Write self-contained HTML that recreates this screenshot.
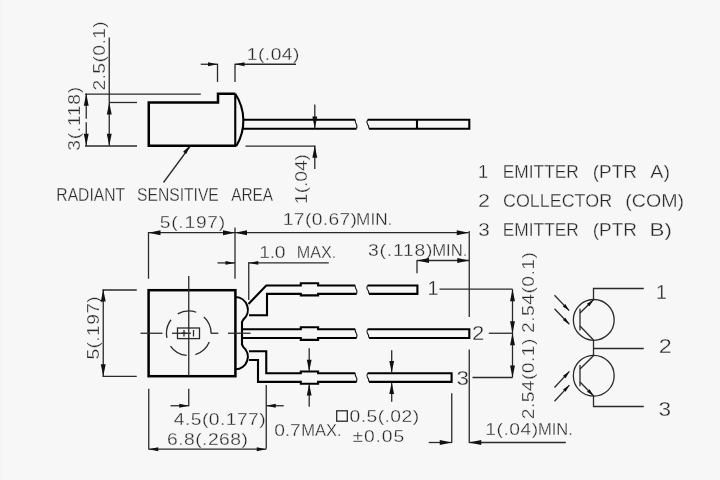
<!DOCTYPE html>
<html lang="en">
<head>
<meta charset="utf-8">
<title>Package dimensions</title>
<style>
html,body{margin:0;padding:0;background:#f7f7f7;}
body{width:720px;height:480px;overflow:hidden;}
svg{display:block;}
.t{stroke:#2a2a2a;stroke-width:1.3;fill:none;}
.k{stroke:#000;stroke-width:2.1;fill:none;stroke-linejoin:miter;}
.w{stroke:#111;stroke-width:1.1;fill:none;}
.b{stroke:#000;stroke-width:2.5;fill:none;stroke-linejoin:miter;}
.a{fill:#111;stroke:none;}
.x{font-family:"Liberation Sans",sans-serif;fill:#262626;stroke:#f7f7f7;stroke-width:0.3;}
</style>
</head>
<body>
<svg width="720" height="480" viewBox="0 0 720 480">
<rect x="0" y="0" width="720" height="480" fill="#f7f7f7"/>
<rect x="0" y="0" width="3" height="480" fill="#f5f5f5"/>
<!-- labels -->
<g opacity="0.99">
<text class="x" transform="translate(248.30 60.40) scale(1.12 1)" x="-1.34" y="0" font-size="17.2" textLength="46.99" lengthAdjust="spacing">1(.04)</text>
<text class="x" transform="translate(105.20 89.60) rotate(-90) scale(1.12 1)" x="-0.89" y="0" font-size="17.2" textLength="61.87" lengthAdjust="spacing">2.5(0.1)</text>
<text class="x" transform="translate(80.40 150.00) rotate(-90) scale(1.12 1)" x="-0.67" y="0" font-size="17.2" textLength="57.10" lengthAdjust="spacing">3(.118)</text>
<text class="x" transform="translate(306.60 202.50) rotate(-90) scale(1.12 1)" x="-1.34" y="0" font-size="17.2" textLength="44.64" lengthAdjust="spacing">1(.04)</text>
<text class="x" x="56.35" y="201.20" font-size="18.3" textLength="68.72" lengthAdjust="spacingAndGlyphs">RADIANT</text>
<text class="x" x="137.05" y="201.20" font-size="18.3" textLength="81.75" lengthAdjust="spacingAndGlyphs">SENSITIVE</text>
<text class="x" x="231.20" y="201.20" font-size="18.3" textLength="41.90" lengthAdjust="spacingAndGlyphs">AREA</text>
<text class="x" x="477.95" y="178.40" font-size="18.3">1</text>
<text class="x" x="502.80" y="178.40" font-size="18.3" textLength="76.02" lengthAdjust="spacingAndGlyphs">EMITTER</text>
<text class="x" x="592.75" y="178.40" font-size="18.3" textLength="44.17" lengthAdjust="spacingAndGlyphs">(PTR</text>
<text class="x" x="650.30" y="178.40" font-size="18.3" textLength="19.65" lengthAdjust="spacingAndGlyphs">A)</text>
<text class="x" x="478.00" y="206.80" font-size="18.3" textLength="11.93" lengthAdjust="spacingAndGlyphs">2</text>
<text class="x" x="503.00" y="206.80" font-size="18.3" textLength="109.08" lengthAdjust="spacingAndGlyphs">COLLECTOR</text>
<text class="x" x="625.25" y="206.80" font-size="18.3" textLength="58.77" lengthAdjust="spacingAndGlyphs">(COM)</text>
<text class="x" x="478.25" y="235.80" font-size="18.3" textLength="11.48" lengthAdjust="spacingAndGlyphs">3</text>
<text class="x" x="502.80" y="235.80" font-size="18.3" textLength="76.02" lengthAdjust="spacingAndGlyphs">EMITTER</text>
<text class="x" x="592.75" y="235.80" font-size="18.3" textLength="44.17" lengthAdjust="spacingAndGlyphs">(PTR</text>
<text class="x" x="649.55" y="235.80" font-size="18.3" textLength="22.33" lengthAdjust="spacingAndGlyphs">B)</text>
<text class="x" transform="translate(160.50 228.30) scale(1.12 1)" x="-0.67" y="0" font-size="17.2" textLength="58.44" lengthAdjust="spacing">5(.197)</text>
<text class="x" transform="translate(284.30 224.60) scale(1.12 1)" x="-1.34" y="0" font-size="17.2" textLength="66.18" lengthAdjust="spacing">17(0.67)</text>
<text class="x" x="356.10" y="224.60" font-size="17.2" textLength="36.20" lengthAdjust="spacingAndGlyphs">MIN.</text>
<text class="x" transform="translate(260.80 257.70) scale(1.12 1)" x="-1.34" y="0" font-size="17.2" textLength="23.37" lengthAdjust="spacing">1.0</text>
<text class="x" x="296.75" y="257.70" font-size="17.2" textLength="39.62" lengthAdjust="spacingAndGlyphs">MAX.</text>
<text class="x" transform="translate(368.70 256.40) scale(1.12 1)" x="-0.67" y="0" font-size="17.2" textLength="57.66" lengthAdjust="spacing">3(.118)</text>
<text class="x" x="432.15" y="256.40" font-size="17.2" textLength="35.23" lengthAdjust="spacingAndGlyphs">MIN.</text>
<text class="x" transform="translate(99.20 358.80) rotate(-90) scale(1.12 1)" x="-0.67" y="0" font-size="17.2" textLength="56.54" lengthAdjust="spacing">5(.197)</text>
<text class="x" transform="translate(174.30 424.80) scale(1.12 1)" x="-0.45" y="0" font-size="17.2" textLength="82.01" lengthAdjust="spacing">4.5(0.177)</text>
<text class="x" transform="translate(168.00 445.30) scale(1.12 1)" x="-0.89" y="0" font-size="17.2" textLength="72.25" lengthAdjust="spacing">6.8(.268)</text>
<text class="x" transform="translate(275.00 436.30) scale(1.12 1)" x="-0.67" y="0" font-size="17.2" textLength="23.64" lengthAdjust="spacing">0.7</text>
<text class="x" x="301.25" y="436.30" font-size="17.2" textLength="40.35" lengthAdjust="spacingAndGlyphs">MAX.</text>
<text class="x" transform="translate(350.30 421.80) scale(1.12 1)" x="-0.67" y="0" font-size="17.2" textLength="62.12" lengthAdjust="spacing">0.5(.02)</text>
<text class="x" transform="translate(353.00 441.80) scale(1.12 1)" x="-0.45" y="0" font-size="17.2" textLength="46.12" lengthAdjust="spacing">±0.05</text>
<text class="x" x="427.60" y="295.20" font-size="19.6">1</text>
<text class="x" x="472.00" y="340.40" font-size="19.6" textLength="12.30" lengthAdjust="spacingAndGlyphs">2</text>
<text class="x" x="456.50" y="385.00" font-size="19.6" textLength="12.45" lengthAdjust="spacingAndGlyphs">3</text>
<text class="x" transform="translate(533.90 331.90) rotate(-90) scale(1.12 1)" x="-0.89" y="0" font-size="17.2" textLength="72.14" lengthAdjust="spacing">2.54(0.1)</text>
<text class="x" transform="translate(533.90 418.20) rotate(-90) scale(1.12 1)" x="-0.89" y="0" font-size="17.2" textLength="71.92" lengthAdjust="spacing">2.54(0.1)</text>
<text class="x" transform="translate(486.70 434.60) scale(1.12 1)" x="-1.34" y="0" font-size="17.2" textLength="47.32" lengthAdjust="spacing">1(.04)</text>
<text class="x" x="537.95" y="434.60" font-size="17.2" textLength="34.97" lengthAdjust="spacingAndGlyphs">MIN.</text>
<text class="x" x="655.90" y="299.30" font-size="19.6">1</text>
<text class="x" x="658.75" y="353.00" font-size="19.6" textLength="13.03" lengthAdjust="spacingAndGlyphs">2</text>
<text class="x" x="658.60" y="415.60" font-size="19.6" textLength="12.58" lengthAdjust="spacingAndGlyphs">3</text>
</g>
<!-- side view -->
<path class="b" d="M235.25,93.75 H218 V102.5 H148.75 V145.75 H236.5"/>
<path class="k" d="M235.25,93.75 V145.75"/>
<path class="k" d="M235.25,93.75 A49,49 0 0 1 236.5,145.75"/>
<path class="k" d="M242.8,119.8 H355.2 M356.6,128.7 H242.8"/>
<path class="w" d="M355.2,119.8 q-0.1,2.67 0.9,3.74 q1.3,1.60 0.5,5.16"/>
<path class="k" d="M367.6,119.8 H469.3 V128.7 H369"/>
<path class="w" d="M367.6,119.8 q-1.3,2.22 -0.2,4.00 q1.4,1.78 1.6,4.89"/>
<path class="k" d="M417,119.8 V128.7"/>
<line class="t" x1="109.25" y1="37.5" x2="109.25" y2="145.75"/>
<line class="t" x1="109.25" y1="102.5" x2="137" y2="102.5"/>
<polygon class="a" points="109.25,102.50 111.70,114.50 106.80,114.50"/>
<polygon class="a" points="109.25,145.75 106.80,133.75 111.70,133.75"/>
<line class="t" x1="85" y1="94.1" x2="200.8" y2="94.1"/>
<line class="t" x1="86.25" y1="93.75" x2="86.25" y2="118.75"/>
<line class="t" x1="86.25" y1="122.25" x2="86.25" y2="145.75"/>
<line class="t" x1="85" y1="146" x2="137" y2="146"/>
<polygon class="a" points="86.25,93.75 88.70,105.75 83.80,105.75"/>
<polygon class="a" points="86.25,145.75 83.80,133.75 88.70,133.75"/>
<line class="t" x1="217.5" y1="63.75" x2="217.5" y2="82"/>
<line class="t" x1="235" y1="63.75" x2="235" y2="82"/>
<line class="t" x1="200.75" y1="64.25" x2="217.5" y2="64.25"/>
<line class="t" x1="235" y1="64.25" x2="296" y2="64.25"/>
<polygon class="a" points="217.50,64.25 208.00,66.20 208.00,62.30"/>
<polygon class="a" points="235.00,64.25 244.50,62.30 244.50,66.20"/>
<line class="t" x1="314.8" y1="104.6" x2="314.8" y2="128.5"/>
<polygon class="a" points="314.80,128.50 312.35,116.50 317.25,116.50"/>
<line class="t" x1="245.5" y1="146.1" x2="315.4" y2="146.1"/>
<line class="t" x1="314.8" y1="145.8" x2="314.8" y2="169"/>
<polygon class="a" points="314.80,145.80 317.25,157.80 312.35,157.80"/>
<line class="t" x1="190" y1="146.5" x2="163.5" y2="182.5"/>
<polygon class="a" points="190.30,145.30 186.23,154.10 183.09,151.79"/>
<!-- front view -->
<rect class="b" x="148.6" y="290.2" width="86.8" height="86"/>
<path class="k" d="M235.5,297 A12.8,12.8 0 0 1 243.3,319.6 L242,322 V344.5 L243.3,347 A12.6,12.6 0 0 1 235.5,369.3"/>
<path class="k" d="M248.5,304 L266.25,285.5 H300.8 V283.3 H318.1 V285.5 H355.2 M356.6,293.9 H318.1 V295.4 H300.8 V293.9 H267 V315.2 H249"/>
<path class="w" d="M355.2,285.5 q-0.1,2.52 0.9,3.53 q1.3,1.51 0.5,4.87"/>
<path class="k" d="M367.6,285.5 H417.4 V293.9 H369"/>
<path class="w" d="M367.6,285.5 q-1.3,2.10 -0.2,3.78 q1.4,1.68 1.6,4.62"/>
<path class="k" d="M242,329.25 H300.8 V327.3 H318.1 V329.25 H355.2 M356.6,338 H318.1 V339.9 H300.8 V338 H242"/>
<path class="w" d="M355.2,329.25 q-0.1,2.62 0.9,3.67 q1.3,1.57 0.5,5.07"/>
<path class="k" d="M367.6,329.25 H469.3 V338 H369"/>
<path class="w" d="M367.6,329.25 q-1.3,2.19 -0.2,3.94 q1.4,1.75 1.6,4.81"/>
<path class="k" d="M249,351.25 H266.25 V373.2 H300.8 V371.5 H318.1 V373.2 H355.2 M356.6,381.9 H318.1 V383.7 H300.8 V381.9 H258 V360 H249"/>
<path class="w" d="M355.2,373.2 q-0.1,2.61 0.9,3.65 q1.3,1.57 0.5,5.05"/>
<path class="k" d="M367.6,373.2 H451.6 V381.9 H369"/>
<path class="w" d="M367.6,373.2 q-1.3,2.17 -0.2,3.91 q1.4,1.74 1.6,4.78"/>
<line class="t" x1="188.75" y1="276" x2="188.75" y2="376"/>
<line class="t" x1="140.5" y1="333.25" x2="162.5" y2="333.25"/>
<line class="t" x1="172" y1="333.25" x2="191" y2="333.25"/>
<line class="t" x1="210.8" y1="333.25" x2="218.3" y2="333.25"/>
<line class="t" x1="228" y1="333.25" x2="250.5" y2="333.25"/>
<circle class="t" cx="188.75" cy="333.25" r="22.3" stroke-dasharray="19.1 8.92" stroke-dashoffset="19.1" fill="none"/>
<rect class="t" x="177.5" y="328" width="22" height="10.6" fill="none"/>
<line class="t" x1="184" y1="330" x2="184" y2="336.5"/>
<line class="t" x1="181.5" y1="333.25" x2="186.5" y2="333.25"/>
<line class="t" x1="193.5" y1="330" x2="193.5" y2="336.5"/>
<line class="t" x1="148.5" y1="232" x2="148.5" y2="278.75"/>
<line class="t" x1="235" y1="227.5" x2="235" y2="278.75"/>
<line class="t" x1="148.5" y1="232.7" x2="468.75" y2="232.7"/>
<polygon class="a" points="148.50,232.70 160.50,230.25 160.50,235.15"/>
<polygon class="a" points="235.00,232.70 223.00,235.15 223.00,230.25"/>
<polygon class="a" points="235.00,232.70 247.00,230.25 247.00,235.15"/>
<polygon class="a" points="468.75,232.70 456.75,235.15 456.75,230.25"/>
<line class="t" x1="217.5" y1="262.9" x2="235" y2="262.9"/>
<polygon class="a" points="235.00,262.90 225.50,264.85 225.50,260.95"/>
<line class="t" x1="248.75" y1="262.9" x2="328.75" y2="262.9"/>
<polygon class="a" points="248.75,262.90 258.25,260.95 258.25,264.85"/>
<line class="t" x1="248.75" y1="262" x2="248.75" y2="300"/>
<line class="t" x1="469.25" y1="231" x2="469.25" y2="317"/>
<line class="t" x1="469.25" y1="349.5" x2="469.25" y2="443"/>
<line class="t" x1="417" y1="260" x2="417" y2="273.25"/>
<line class="t" x1="417" y1="260.5" x2="469.25" y2="260.5"/>
<polygon class="a" points="417.00,260.50 429.00,258.05 429.00,262.95"/>
<polygon class="a" points="469.25,260.50 457.25,262.95 457.25,258.05"/>
<line class="t" x1="102.5" y1="290" x2="136.75" y2="290"/>
<line class="t" x1="102.5" y1="376.3" x2="136.75" y2="376.3"/>
<line class="t" x1="103.25" y1="289.6" x2="103.25" y2="376.25"/>
<polygon class="a" points="103.25,289.60 105.70,301.60 100.80,301.60"/>
<polygon class="a" points="103.25,376.25 100.80,364.25 105.70,364.25"/>
<line class="t" x1="148.75" y1="388.75" x2="148.75" y2="449.5"/>
<line class="t" x1="188.75" y1="388.75" x2="188.75" y2="406.25"/>
<line class="t" x1="170.5" y1="405.75" x2="188.75" y2="405.75"/>
<polygon class="a" points="188.75,405.75 179.25,407.70 179.25,403.80"/>
<line class="t" x1="266.25" y1="385" x2="266.25" y2="448.75"/>
<line class="t" x1="266.25" y1="405.75" x2="283.75" y2="405.75"/>
<polygon class="a" points="266.25,405.75 275.75,403.80 275.75,407.70"/>
<line class="t" x1="148.75" y1="449.2" x2="266.25" y2="449.2"/>
<polygon class="a" points="148.75,449.20 158.25,447.25 158.25,451.15"/>
<polygon class="a" points="266.25,449.20 256.75,451.15 256.75,447.25"/>
<rect class="t" x="336.7" y="410.8" width="10.6" height="10.4" fill="none"/>
<line class="t" x1="309.2" y1="348.3" x2="309.2" y2="371"/>
<polygon class="a" points="309.20,371.20 306.80,359.70 311.60,359.70"/>
<line class="t" x1="309.2" y1="384" x2="309.2" y2="406.7"/>
<polygon class="a" points="309.20,384.00 311.60,395.50 306.80,395.50"/>
<line class="t" x1="391.7" y1="350.3" x2="391.7" y2="372.5"/>
<polygon class="a" points="391.70,372.50 389.30,361.00 394.10,361.00"/>
<line class="t" x1="391.7" y1="382.5" x2="391.7" y2="401.7"/>
<polygon class="a" points="391.70,382.50 394.10,394.00 389.30,394.00"/>
<line class="t" x1="439.5" y1="289.2" x2="512.5" y2="289.2"/>
<line class="t" x1="488.75" y1="333.25" x2="512.5" y2="333.25"/>
<line class="t" x1="472.5" y1="377.5" x2="512.5" y2="377.5"/>
<line class="t" x1="512.5" y1="289.2" x2="512.5" y2="377.5"/>
<polygon class="a" points="512.50,289.20 514.95,301.20 510.05,301.20"/>
<polygon class="a" points="512.50,333.25 510.05,321.25 514.95,321.25"/>
<polygon class="a" points="512.50,333.25 514.95,345.25 510.05,345.25"/>
<polygon class="a" points="512.50,377.50 510.05,365.50 514.95,365.50"/>
<line class="t" x1="451.75" y1="393.25" x2="451.75" y2="443"/>
<line class="t" x1="428.75" y1="442.5" x2="451.75" y2="442.5"/>
<polygon class="a" points="451.75,442.50 439.75,444.95 439.75,440.05"/>
<line class="t" x1="469.25" y1="442.5" x2="565.8" y2="442.5"/>
<polygon class="a" points="469.25,442.50 481.25,440.05 481.25,444.95"/>
<!-- schematic -->
<circle class="t" cx="593.75" cy="319.9" r="20.4" fill="none"/>
<circle class="t" cx="593.75" cy="375.7" r="20.4" fill="none"/>
<path class="t" d="M593.5,299.5 V288.5 H643.75"/>
<path class="t" d="M593.5,340.3 V355.5"/>
<path class="t" d="M593.5,348.5 H643.75"/>
<path class="t" d="M593.5,396 V406.5 H643.75"/>
<line class="t" x1="580" y1="308.75" x2="580" y2="330.5"/>
<line class="t" x1="580" y1="313" x2="593.75" y2="299.5"/>
<line class="t" x1="580" y1="326" x2="593.75" y2="340.3"/>
<polygon class="a" points="593.50,299.80 589.41,306.34 586.89,303.77"/>
<line class="t" x1="580" y1="365" x2="580" y2="386.25"/>
<line class="t" x1="580" y1="369" x2="593.75" y2="355.5"/>
<line class="t" x1="580" y1="382" x2="593.75" y2="396"/>
<polygon class="a" points="593.50,395.80 586.96,391.71 589.53,389.19"/>
<line class="t" x1="554.5" y1="295.3" x2="569.2" y2="310.6"/>
<polygon class="a" points="569.20,310.60 562.71,306.44 565.30,303.94"/>
<line class="t" x1="554.5" y1="308.75" x2="569.3" y2="324.3"/>
<polygon class="a" points="569.30,324.30 562.83,320.11 565.43,317.63"/>
<line class="t" x1="554.5" y1="387.5" x2="569.4" y2="371.4"/>
<polygon class="a" points="569.40,371.40 565.63,378.13 562.98,375.68"/>
<line class="t" x1="554.5" y1="401.25" x2="569.4" y2="385.1"/>
<polygon class="a" points="569.40,385.10 565.64,391.83 562.99,389.39"/>
</svg>
</body>
</html>
